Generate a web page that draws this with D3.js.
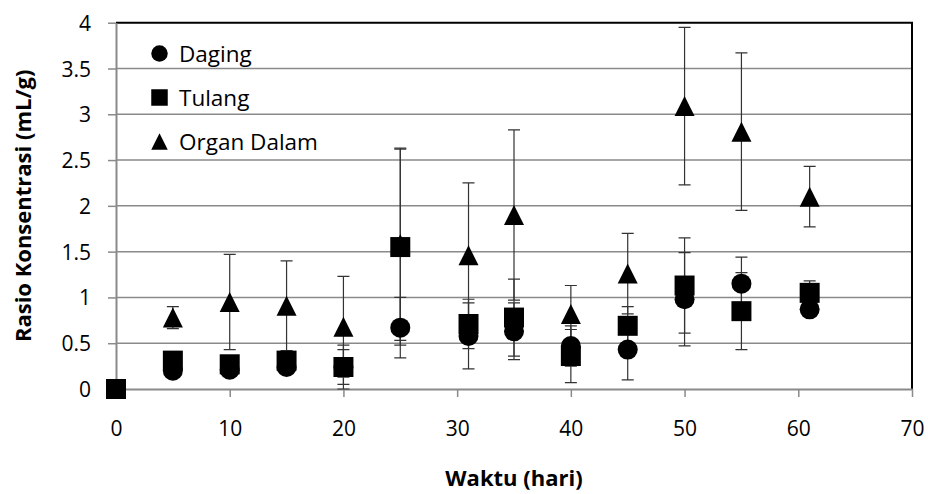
<!DOCTYPE html>
<html>
<head>
<meta charset="utf-8">
<script src="https://cdn.jsdelivr.net/npm/d3@7"></script>
<style>
  html, body { margin: 0; padding: 0; background: #fff; }
</style>
</head>
<body>
<div id="idMyCanvas"></div>
<script>
// data
let days = [0, 5, 10, 15, 20, 25, 31, 35, 40, 45, 50, 55, 61];
let daging     = [0, 0.20, 0.21, 0.24, 0.24, 0.67, 0.58, 0.63, 0.47, 0.43, 0.98, 1.15, 0.87];
let daging_err = [0, 0.05, 0.05, 0.05, 0.19, 0.33, 0.36, 0.31, 0.22, 0.33, 0.51, 0.29, 0.08];
let tulang     = [0, 0.31, 0.27, 0.31, 0.24, 1.55, 0.71, 0.78, 0.36, 0.69, 1.13, 0.85, 1.05];
let tulang_err = [0, 0.05, 0.05, 0.05, 0.24, 1.07, 0.27, 0.42, 0.29, 0.21, 0.52, 0.42, 0.13];
let organ      = [0, 0.78, 0.95, 0.91, 0.68, 1.58, 1.46, 1.90, 0.82, 1.26, 3.09, 2.81, 2.10];
let organ_err  = [0, 0.12, 0.52, 0.49, 0.55, 1.05, 0.79, 0.93, 0.31, 0.44, 0.86, 0.86, 0.33];

let series_names = ["Daging", "Tulang", "Organ Dalam"];
let series_shapes = ["circle", "square", "triangle"];
let x_ticks = [0, 10, 20, 30, 40, 50, 60, 70];
let y_ticks = [0, 0.5, 1, 1.5, 2, 2.5, 3, 3.5, 4];

let width = 928, height = 494;
let plot_left = 116, plot_right = 912, plot_top = 22.7, plot_bottom = 389;
let font = "'Open Sans', sans-serif";
let grid_col = "#8a8a8a";

let svg_obj = d3.select("#idMyCanvas")
                .append("svg")
                  .attr("width", width)
                  .attr("height", height)
                  .attr("xmlns", "http://www.w3.org/2000/svg");

svg_obj.append("rect")
  .attr("width", width).attr("height", height)
  .attr("fill", "white");

let x = d3.scaleLinear().domain([0, 70]).range([plot_left, plot_right]);
let y = d3.scaleLinear().domain([0, 4]).range([plot_bottom, plot_top]);

// gridlines
svg_obj.append("g")
  .selectAll("line")
  .data(y_ticks.filter(d => d > 0 && d < 4))
  .join("line")
    .attr("x1", plot_left).attr("x2", plot_right)
    .attr("y1", d => y(d)).attr("y2", d => y(d))
    .attr("stroke", grid_col)
    .attr("stroke-width", 1.5);

// plot border (top + right black)
svg_obj.append("path")
  .attr("d", `M${plot_left},${y(4)}H${plot_right}V${plot_bottom}`)
  .attr("fill", "none")
  .attr("stroke", "#000")
  .attr("stroke-width", 2);

// axes
let x_axis = svg_obj.append("g")
  .attr("transform", `translate(0,${plot_bottom})`)
  .call(d3.axisBottom(x).tickValues(x_ticks).tickSizeInner(8).tickSizeOuter(0).tickPadding(24));

let y_axis = svg_obj.append("g")
  .attr("transform", `translate(${plot_left},0)`)
  .call(d3.axisLeft(y).tickValues(y_ticks).tickSizeInner(8).tickSizeOuter(0).tickPadding(17)
        .tickFormat(d3.format("")));

[x_axis, y_axis].forEach(function(ax) {
  ax.select(".domain").attr("stroke", grid_col).attr("stroke-width", 2);
  ax.selectAll(".tick line").attr("stroke", grid_col).attr("stroke-width", 1.5);
  ax.selectAll(".tick text")
    .attr("font-family", font)
    .attr("font-size", "21px")
    .attr("fill", "#000");
});
y_axis.selectAll(".tick text").attr("dy", "0.36em");

// axis titles
svg_obj.append("text")
  .attr("x", (plot_left + plot_right) / 2)
  .attr("y", 486)
  .attr("text-anchor", "middle")
  .attr("font-family", font)
  .attr("font-weight", "bold")
  .attr("font-size", "22px")
  .text("Waktu (hari)");

svg_obj.append("text")
  .attr("transform", `translate(31,${(plot_top + plot_bottom) / 2}) rotate(-90)`)
  .attr("text-anchor", "middle")
  .attr("font-family", font)
  .attr("font-weight", "bold")
  .attr("font-size", "22px")
  .text("Rasio Konsentrasi (mL/g)");

// marker shapes
function marker_path(shape, s) {
  let h = s / 2;
  if (shape === "circle") {
    return `M${-h},0A${h},${h} 0 1,0 ${h},0A${h},${h} 0 1,0 ${-h},0Z`;
  }
  if (shape === "square") {
    return `M${-h},${-h}H${h}V${h}H${-h}Z`;
  }
  return `M0,${-h}L${h},${h}H${-h}Z`;
}

let series_vals = [daging, tulang, organ];
let series_errs = [daging_err, tulang_err, organ_err];

// error bars
let cap = 6;
series_vals.forEach(function(vals, si) {
  let pts = days.map((d, i) => ({ d: d, v: vals[i], e: series_errs[si][i] }))
                .filter(p => p.e > 0);
  let g = svg_obj.append("g")
    .attr("stroke", "#333")
    .attr("stroke-width", 1.2)
    .attr("fill", "none");
  g.selectAll("path")
    .data(pts)
    .join("path")
      .attr("d", p => {
        let cx = x(p.d), y1 = y(p.v + p.e), y0 = y(p.v - p.e);
        return `M${cx},${y1}V${y0}M${cx - cap},${y1}H${cx + cap}M${cx - cap},${y0}H${cx + cap}`;
      });
});

// markers
series_vals.forEach(function(vals, si) {
  svg_obj.append("g")
    .selectAll("path")
    .data(days.map((d, i) => ({ d: d, v: vals[i] })))
    .join("path")
      .attr("transform", p => `translate(${x(p.d)},${y(p.v)})`)
      .attr("d", marker_path(series_shapes[si], 20))
      .attr("fill", "#000");
});

// legend
let legend = svg_obj.append("g")
  .selectAll("g")
  .data(series_names)
  .join("g")
    .attr("transform", (d, i) => `translate(159.5,${53.5 + i * 44})`);

legend.append("path")
  .attr("d", (d, i) => marker_path(series_shapes[i], 16.5))
  .attr("fill", "#000");

legend.append("text")
  .attr("x", 19.5)
  .attr("dy", "0.36em")
  .attr("font-family", font)
  .attr("font-size", "22.5px")
  .attr("fill", "#000")
  .text(d => d);
</script>
</body>
</html>
